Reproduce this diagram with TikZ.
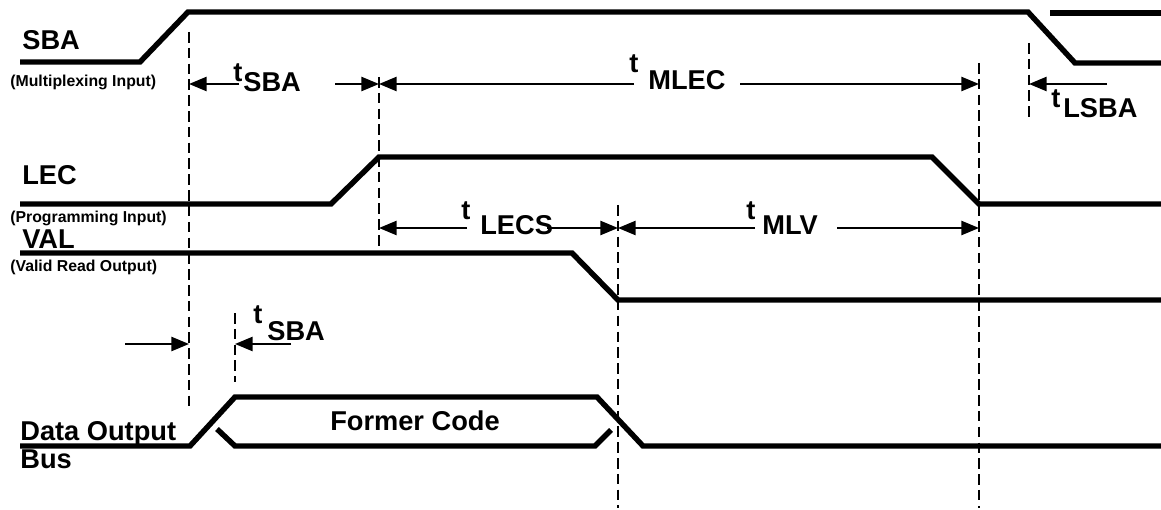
\documentclass[tikz,border=0pt]{standalone}
\usepackage{fontspec}
\setmainfont{Liberation Sans}
\usepackage{tikz}
\usetikzlibrary{arrows.meta}

\begin{document}
\begin{tikzpicture}[x=0.02cm, y=-0.02cm]
        \tikzstyle{sig} = [line width=3.1pt, line join=miter]
        \tikzstyle{guide} = [line width=1.6pt, dash pattern=on 6pt off 3pt]
        \tikzstyle{dim} = [line width=1.2pt, -{Triangle[length=10pt, width=8pt]}]
        \tikzstyle{big} = [inner sep=0pt, font=\fontsize{15.5}{17}\selectfont\bfseries]
        \tikzstyle{small} = [inner sep=0pt, font=\fontsize{9}{10}\selectfont\bfseries]
        \useasboundingbox (0,0) rectangle (1161,510);

        % signal names
        \node (sba) [big, anchor=base west] at (22,50) {SBA};
        \node (sbain) [small, anchor=base west] at (10,87) {(Multiplexing Input)};
        \node (lec) [big, anchor=base west] at (22,185) {LEC};
        \node (lecin) [small, anchor=base west] at (10,223) {(Programming Input)};
        \node (val) [big, anchor=base west] at (22,249) {VAL};
        \node (valout) [small, anchor=base west] at (10,272) {(Valid Read Output)};
        \node (dob) [big, anchor=base west] at (20,440) {Data Output};
        \node (bus) [big, anchor=base west] at (20,468) {Bus};
        \node (former) [big, anchor=base] at (415,430) {Former Code};

        % waveforms
        \draw[sig] (20,62) -- (140,62) -- (188,12) -- (1028,12) -- (1075,63) -- (1161,63);
        \draw[sig] (1050,13) -- (1161,13);
        \draw[sig] (20,204) -- (331,204) -- (379,157) -- (932,157) -- (979,204) -- (1161,204);
        \draw[sig] (20,253) -- (572,253) -- (618,300) -- (1161,300);
        \draw[sig] (20,446) -- (190,446) -- (235,397) -- (597,397) -- (643,446) -- (1161,446);
        \draw[sig] (217,429) -- (235,446) -- (595,446) -- (611,430);

        % time marks
        \coordinate (d1) at (189,32);
        \coordinate (d2) at (379,77);
        \coordinate (d3) at (979,63);
        \coordinate (d4) at (1029,43);
        \coordinate (d5) at (618,205);
        \coordinate (d6) at (235,313);
        \draw[guide] (d1) -- (189,410);
        \draw[guide] (d2) -- (379,247);
        \draw[guide] (d3) -- (979,508);
        \draw[guide] (d4) -- (1029,117);
        \draw[guide] (d5) -- (618,508);
        \draw[guide] (d6) -- (235,382);

        % timing labels
        \node (t1) [big, anchor=base] at (238,82) {t};
        \node (t1s) [big, anchor=base west] at (243,92) {SBA};
        \node (t2) [big, anchor=base] at (634,73) {t};
        \node (t2s) [big, anchor=base west] at (648,90) {MLEC};
        \node (t3) [big, anchor=base] at (1056,108) {t};
        \node (t3s) [big, anchor=base west] at (1063,118) {LSBA};
        \node (t4) [big, anchor=base] at (466,220) {t};
        \node (t4s) [big, anchor=base west] at (480,235) {LECS};
        \node (t5) [big, anchor=base] at (751,220) {t};
        \node (t5s) [big, anchor=base west] at (762,235) {MLV};
        \node (t6) [big, anchor=base] at (258,323) {t};
        \node (t6s) [big, anchor=base west] at (267,340) {SBA};

        % arrows
        \coordinate (a1) at (239,84);
        \coordinate (a2) at (335,84);
        \coordinate (a3) at (634,84);
        \coordinate (a4) at (740,84);
        \coordinate (a5) at (1107,84);
        \coordinate (a6) at (467,228);
        \coordinate (a7) at (547,228);
        \coordinate (a8) at (755,228);
        \coordinate (a9) at (837,228);
        \coordinate (a10) at (125,344);
        \coordinate (a11) at (291,344);
        \draw[dim] (a1) -- (a1 -| d1);
        \draw[dim] (a2) -- (a2 -| d2);
        \draw[dim] (a3) -- (a3 -| d2);
        \draw[dim] (a4) -- (a4 -| d3);
        \draw[dim] (a5) -- (a5 -| d4);
        \draw[dim] (a6) -- (a6 -| d2);
        \draw[dim] (a7) -- (a7 -| d5);
        \draw[dim] (a8) -- (a8 -| d5);
        \draw[dim] (a9) -- (a9 -| d3);
        \draw[dim] (a10) -- (a10 -| d1);
        \draw[dim] (a11) -- (a11 -| d6);
\end{tikzpicture}
\end{document}
